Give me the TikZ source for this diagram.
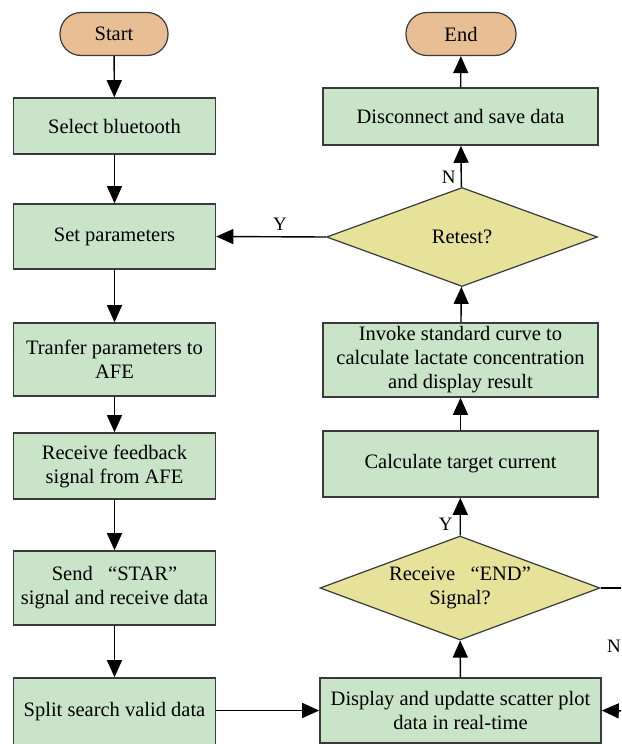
\documentclass[tikz,border=0pt]{standalone}
\usepackage{fontspec}
\setmainfont{Liberation Serif}
\usetikzlibrary{arrows.meta,shapes.geometric}
\definecolor{boxgreen}{HTML}{C9E4C8}
\definecolor{termorange}{HTML}{E8BF95}
\definecolor{decyellow}{HTML}{E6E29A}
\definecolor{edgegray}{HTML}{3A3A3A}
\tikzset{
  every node/.style={font=\fontsize{20.5}{24}\selectfont},
  procbox/.style={draw=edgegray, line width=1.6pt, fill=boxgreen, align=center, inner sep=0pt},
  termbox/.style={draw=edgegray, line width=1.2pt, fill=termorange, rounded corners=21pt, inner sep=0pt},
  decbox/.style={draw=edgegray, line width=1.2pt, fill=decyellow, diamond, aspect=2.75, inner sep=0pt, align=center},
  flow/.style={line width=1.4pt, -{Triangle[length=17pt,width=15pt]}},
  plainline/.style={line width=1.4pt},
  lbl/.style={font=\fontsize{19}{20}\selectfont, inner sep=0pt}
}
\begin{document}
\begin{tikzpicture}[x=1pt,y=-1pt]
\path[use as bounding box, clip] (0,0) rectangle (621,744);
% left column
\node[termbox, minimum width=108pt, minimum height=43pt] (start) at (114,34) {Start};
\node[procbox, minimum width=202pt, minimum height=56pt] (sel) at (114.5,126) {Select bluetooth};
\node[procbox, minimum width=202pt, minimum height=65pt] (set) at (114.5,236.5) {Set parameters};
\node[procbox, minimum width=202pt, minimum height=73pt] (tra) at (114.5,359.5) {Tranfer parameters to\\AFE};
\node[procbox, minimum width=202pt, minimum height=66pt] (rec) at (114.5,466) {Receive feedback\\signal from AFE};
\node[procbox, minimum width=202pt, minimum height=74pt] (send) at (114.5,588) {Send\ \ \ “STAR”\\signal and receive data};
\node[procbox, minimum width=202pt, minimum height=68pt] (split) at (114.5,712) {Split search valid data};
% right column
\node[termbox, minimum width=110pt, minimum height=43pt] (end) at (461,34) {End};
\node[procbox, minimum width=275pt, minimum height=57pt] (disc) at (460.5,116.5) {Disconnect and save data};
\node[decbox, minimum width=271pt, minimum height=99pt] (retest) at (462,237) {Retest?};
\node[procbox, minimum width=275pt, minimum height=74pt] (inv) at (460.5,360) {Invoke standard curve to\\calculate lactate concentration\\and display result};
\node[procbox, minimum width=275pt, minimum height=66pt] (calc) at (460.5,464) {Calculate target current};
\node[decbox, minimum width=280pt, minimum height=104pt] (recend) at (460,588) {Receive\ \ \ “END”\\Signal?};
\node[procbox, minimum width=281pt, minimum height=65pt] (disp) at (460.5,710.5) {Display and updatte scatter plot\\data in real-time};
% connectors
\draw[flow] (start) -- (sel);
\draw[flow] (sel) -- (set);
\draw[flow] (set) -- (tra);
\draw[flow] (tra) -- (rec);
\draw[flow] (rec) -- (send);
\draw[flow] (send) -- (split);
\draw[flow] (split.east |- disp.west) -- (disp.west);
\draw[flow] (disp) -- (recend);
\draw[flow] (recend) -- node[lbl, pos=0.3, left=7pt] {Y} (calc);
\draw[flow] (calc) -- (inv);
\draw[flow] (inv) -- (retest);
\draw[flow] (retest) -- node[lbl, pos=0.25, left=5pt] {N} (disc);
\draw[flow] (disc) -- (end);
\draw[flow] (retest.west) -- node[lbl, pos=0.42, above=6pt] {Y} (set.east);
\coordinate (outA) at (625,588);
\coordinate (outB) at (625,711);
\draw[plainline] (recend.east) -- (outA);
\draw[flow] (outB) -- (disp.east);
\node[lbl] (nlab) at (614,646) {N};
\end{tikzpicture}
\end{document}
